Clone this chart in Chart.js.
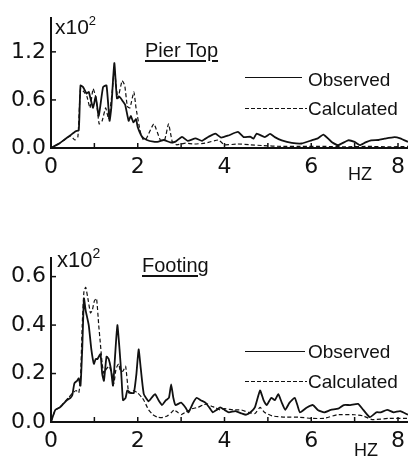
<!DOCTYPE html>
<html>
<head>
<meta charset="utf-8">
<script src="https://cdn.jsdelivr.net/npm/chart.js@4.4.1/dist/chart.umd.min.js"></script>
<style>
  html, body { margin: 0; padding: 0; background: #fff; }
  #wrap { position: relative; width: 411px; height: 456px; overflow: hidden; }
  canvas { position: absolute; left: 0; }
  .txt { position: absolute; font-family: "Liberation Sans", Arial, sans-serif; color: #111; line-height: 1; white-space: nowrap; }
  .sub { text-decoration: underline; text-underline-offset: 3px; text-decoration-thickness: 1.5px; }
  .solid { position: absolute; height: 0; border-top: 1.6px solid #111; }
  .dash { position: absolute; height: 1.4px; background: repeating-linear-gradient(90deg, #111 0 4px, transparent 4px 6px); }
</style>
</head>
<body>
<div id="wrap">
  <canvas id="pier" width="411" height="200" style="top:0"></canvas>
  <canvas id="footing" width="411" height="216" style="top:240px"></canvas>

  <div class="txt" style="left:55px; top:14px; font-size:21px;">x10<sup style="font-size:13px; vertical-align:9px;">2</sup></div>
  <div class="txt sub" style="left:145px; top:40px; font-size:20px;">Pier Top</div>
  <div class="solid" style="left:245px; top:77px; width:57px;"></div>
  <div class="txt" style="left:308px; top:70px; font-size:19px;">Observed</div>
  <div class="dash" style="left:245px; top:108px; width:62px;"></div>
  <div class="txt" style="left:308px; top:99px; font-size:19px;">Calculated</div>
  <div class="txt" style="left:348px; top:165px; font-size:18px;">HZ</div>

  <div class="txt" style="left:57px; top:246px; font-size:22px;">x10<sup style="font-size:14px; vertical-align:9px;">2</sup></div>
  <div class="txt sub" style="left:142px; top:255px; font-size:20px;">Footing</div>
  <div class="solid" style="left:245px; top:351px; width:60px;"></div>
  <div class="txt" style="left:308px; top:342px; font-size:19px;">Observed</div>
  <div class="dash" style="left:245px; top:381px; width:62px;"></div>
  <div class="txt" style="left:308px; top:372px; font-size:19px;">Calculated</div>
  <div class="txt" style="left:354px; top:441px; font-size:18px;">HZ</div>
</div>
<script>
// frequency axis (Hz)
const hzLabels = [0, 2, 4, 6, 8];
const hzMinor = [1, 2, 3, 4, 5, 6, 7, 8];
const hzMax = 8.23;

// Pier Top (x10^2)
const pierTicks = [0, 0.6, 1.2];
const pierMax = 1.62;
const pierObsHz = [0, 0.1, 0.2, 0.3, 0.45, 0.57, 0.64, 0.68, 0.74, 0.82, 0.87, 0.91, 0.97, 1.03, 1.1, 1.2, 1.28, 1.35, 1.39, 1.46, 1.52, 1.58, 1.66, 1.71, 1.79, 1.84, 1.9, 1.96, 2.0, 2.1, 2.21, 2.36, 2.48, 2.6, 2.75, 2.87, 3.02, 3.15, 3.33, 3.48, 3.63, 3.79, 3.92, 4.09, 4.31, 4.44, 4.6, 4.67, 4.74, 4.93, 5.05, 5.16, 5.32, 5.55, 5.78, 6.01, 6.15, 6.28, 6.47, 6.62, 6.85, 7.0, 7.12, 7.25, 7.38, 7.55, 7.69, 7.92, 8.05, 8.23];
const pierObs = [0, 0.03, 0.06, 0.1, 0.16, 0.21, 0.22, 0.78, 0.76, 0.68, 0.7, 0.62, 0.5, 0.64, 0.4, 0.76, 0.78, 0.34, 0.5, 1.06, 0.62, 0.64, 0.58, 0.54, 0.34, 0.4, 0.32, 0.36, 0.26, 0.14, 0.1, 0.08, 0.08, 0.1, 0.07, 0.08, 0.14, 0.09, 0.12, 0.09, 0.14, 0.18, 0.13, 0.156, 0.2, 0.136, 0.14, 0.116, 0.18, 0.136, 0.176, 0.136, 0.096, 0.064, 0.056, 0.096, 0.12, 0.168, 0.076, 0.036, 0.096, 0.076, 0.036, 0.07, 0.096, 0.1, 0.116, 0.136, 0.12, 0.076];
const pierCalcHz = [0, 0.1, 0.2, 0.3, 0.45, 0.55, 0.62, 0.68, 0.76, 0.83, 0.9, 0.97, 1.04, 1.11, 1.18, 1.26, 1.33, 1.41, 1.46, 1.54, 1.64, 1.7, 1.76, 1.82, 1.91, 1.96, 2.06, 2.13, 2.2, 2.37, 2.52, 2.62, 2.71, 2.8, 2.9, 3.1, 3.3, 3.55, 3.86, 4.0, 4.3, 4.6, 4.9, 5.3, 5.8, 6.3, 6.8, 7.3, 7.8, 8.23];
const pierCalc = [0, 0.03, 0.06, 0.1, 0.15, 0.1, 0.14, 0.74, 0.7, 0.64, 0.5, 0.74, 0.62, 0.3, 0.34, 0.5, 0.36, 0.7, 0.98, 0.62, 0.84, 0.78, 0.52, 0.5, 0.7, 0.5, 0.2, 0.1, 0.12, 0.3, 0.1, 0.1, 0.3, 0.07, 0.04, 0.06, 0.05, 0.06, 0.1, 0.04, 0.05, 0.04, 0.03, 0.02, 0.02, 0.02, 0.015, 0.02, 0.015, 0.02];

// Footing (x10^2)
const footTicks = [0, 0.2, 0.4, 0.6];
const footMax = 0.676;
const footObsHz = [0, 0.1, 0.2, 0.26, 0.37, 0.45, 0.49, 0.54, 0.6, 0.64, 0.68, 0.72, 0.76, 0.8, 0.87, 0.93, 0.99, 1.03, 1.07, 1.14, 1.18, 1.22, 1.28, 1.33, 1.38, 1.43, 1.48, 1.53, 1.58, 1.62, 1.66, 1.72, 1.76, 1.84, 1.91, 1.97, 2.02, 2.07, 2.14, 2.25, 2.32, 2.4, 2.48, 2.56, 2.65, 2.72, 2.77, 2.82, 2.87, 3.0, 3.1, 3.17, 3.28, 3.36, 3.45, 3.56, 3.65, 3.73, 3.82, 3.9, 4.0, 4.1, 4.25, 4.4, 4.5, 4.6, 4.7, 4.82, 4.9, 4.97, 5.08, 5.16, 5.24, 5.32, 5.4, 5.5, 5.62, 5.68, 5.74, 5.9, 6.04, 6.15, 6.3, 6.45, 6.62, 6.75, 6.9, 7.08, 7.2, 7.35, 7.5, 7.6, 7.75, 7.9, 8.05, 8.23];
const footObs = [0, 0.05, 0.06, 0.07, 0.09, 0.1, 0.11, 0.16, 0.17, 0.18, 0.15, 0.3, 0.51, 0.46, 0.4, 0.3, 0.24, 0.26, 0.26, 0.28, 0.2, 0.17, 0.27, 0.26, 0.22, 0.15, 0.28, 0.4, 0.3, 0.2, 0.09, 0.1, 0.13, 0.12, 0.12, 0.2, 0.3, 0.22, 0.115, 0.085, 0.1, 0.115, 0.09, 0.07, 0.09, 0.1, 0.155, 0.1, 0.07, 0.08, 0.06, 0.04, 0.08, 0.1, 0.09, 0.08, 0.06, 0.04, 0.05, 0.06, 0.05, 0.04, 0.045, 0.035, 0.03, 0.04, 0.06, 0.13, 0.09, 0.07, 0.1, 0.09, 0.115, 0.08, 0.05, 0.08, 0.1, 0.07, 0.04, 0.06, 0.07, 0.05, 0.04, 0.05, 0.055, 0.07, 0.07, 0.075, 0.05, 0.02, 0.04, 0.04, 0.05, 0.04, 0.045, 0.03];
const footCalcHz = [0, 0.1, 0.2, 0.3, 0.4, 0.5, 0.58, 0.64, 0.68, 0.72, 0.76, 0.8, 0.86, 0.91, 0.95, 1.0, 1.05, 1.1, 1.14, 1.18, 1.22, 1.28, 1.34, 1.4, 1.45, 1.5, 1.56, 1.6, 1.66, 1.72, 1.79, 1.85, 1.9, 2.0, 2.1, 2.14, 2.25, 2.35, 2.45, 2.55, 2.68, 2.78, 2.84, 2.92, 3.0, 3.1, 3.25, 3.38, 3.5, 3.6, 3.7, 3.78, 3.9, 4.0, 4.2, 4.38, 4.55, 4.7, 4.82, 4.92, 5.1, 5.4, 5.7, 6.0, 6.3, 6.6, 7.0, 7.2, 7.4, 7.8, 8.23];
const footCalc = [0, 0.05, 0.06, 0.08, 0.1, 0.12, 0.13, 0.12, 0.18, 0.4, 0.54, 0.556, 0.5, 0.45, 0.46, 0.5, 0.51, 0.4, 0.32, 0.24, 0.2, 0.22, 0.23, 0.2, 0.16, 0.22, 0.24, 0.21, 0.21, 0.23, 0.12, 0.12, 0.13, 0.12, 0.1, 0.09, 0.05, 0.03, 0.02, 0.018, 0.025, 0.04, 0.05, 0.04, 0.03, 0.04, 0.055, 0.06, 0.07, 0.075, 0.065, 0.06, 0.05, 0.055, 0.05, 0.05, 0.04, 0.035, 0.06, 0.04, 0.025, 0.02, 0.02, 0.015, 0.015, 0.03, 0.03, 0.025, 0.01, 0.015, 0.015];

const ink = '#111';
const tickFont = { family: '"DejaVu Sans", sans-serif', size: 22 };

const pts = (xs, ys) => xs.map((x, i) => ({ x, y: ys[i] }));

// small tick marks drawn inside the axes
const innerTicks = {
  id: 'innerTicks',
  afterDraw(chart, args, opts) {
    const { ctx, chartArea: a, scales: { x, y } } = chart;
    ctx.save();
    ctx.strokeStyle = ink;
    ctx.lineWidth = 1.5;
    opts.xs.forEach(v => {
      const px = x.getPixelForValue(v);
      ctx.beginPath();
      ctx.moveTo(px, a.bottom);
      ctx.lineTo(px, a.bottom - 5);
      ctx.stroke();
    });
    opts.ys.forEach(v => {
      const py = y.getPixelForValue(v);
      ctx.beginPath();
      ctx.moveTo(a.left, py);
      ctx.lineTo(a.left + 5, py);
      ctx.stroke();
    });
    ctx.restore();
  }
};

function makeChart(id, obs, calc, yTicks, yMax, xHeight) {
  return new Chart(document.getElementById(id), {
    type: 'line',
    data: {
      datasets: [
        { label: 'Observed', data: obs, borderColor: ink, borderWidth: 1.8, pointRadius: 0, tension: 0.15, fill: false },
        { label: 'Calculated', data: calc, borderColor: ink, borderWidth: 1.2, borderDash: [4, 2.5], pointRadius: 0, tension: 0.15, fill: false }
      ]
    },
    options: {
      responsive: false,
      animation: false,
      events: [],
      layout: { padding: { top: 13, right: 0, left: 0, bottom: 0 } },
      plugins: {
        legend: { display: false },
        tooltip: { enabled: false },
        innerTicks: { xs: hzMinor, ys: yTicks.slice(1) }
      },
      scales: {
        x: {
          type: 'linear',
          min: 0,
          max: hzMax,
          afterBuildTicks: s => { s.ticks = hzLabels.map(value => ({ value })); },
          afterFit: s => { s.height = xHeight; },
          grid: { display: false, drawTicks: false },
          border: { display: true, color: ink, width: 2 },
          ticks: { color: ink, font: tickFont, padding: 6, maxRotation: 0, callback: v => String(v) }
        },
        y: {
          min: 0,
          max: yMax,
          afterBuildTicks: s => { s.ticks = yTicks.map(value => ({ value })); },
          afterFit: s => { s.width = 51; },
          grid: { display: false, drawTicks: false },
          border: { display: true, color: ink, width: 2 },
          ticks: { color: ink, font: tickFont, padding: 5, callback: v => v.toFixed(1) }
        }
      }
    },
    plugins: [innerTicks]
  });
}

makeChart('pier', pts(pierObsHz, pierObs), pts(pierCalcHz, pierCalc), pierTicks, pierMax, 52);
makeChart('footing', pts(footObsHz, footObs), pts(footCalcHz, footCalc), footTicks, footMax, 34);
</script>
</body>
</html>
